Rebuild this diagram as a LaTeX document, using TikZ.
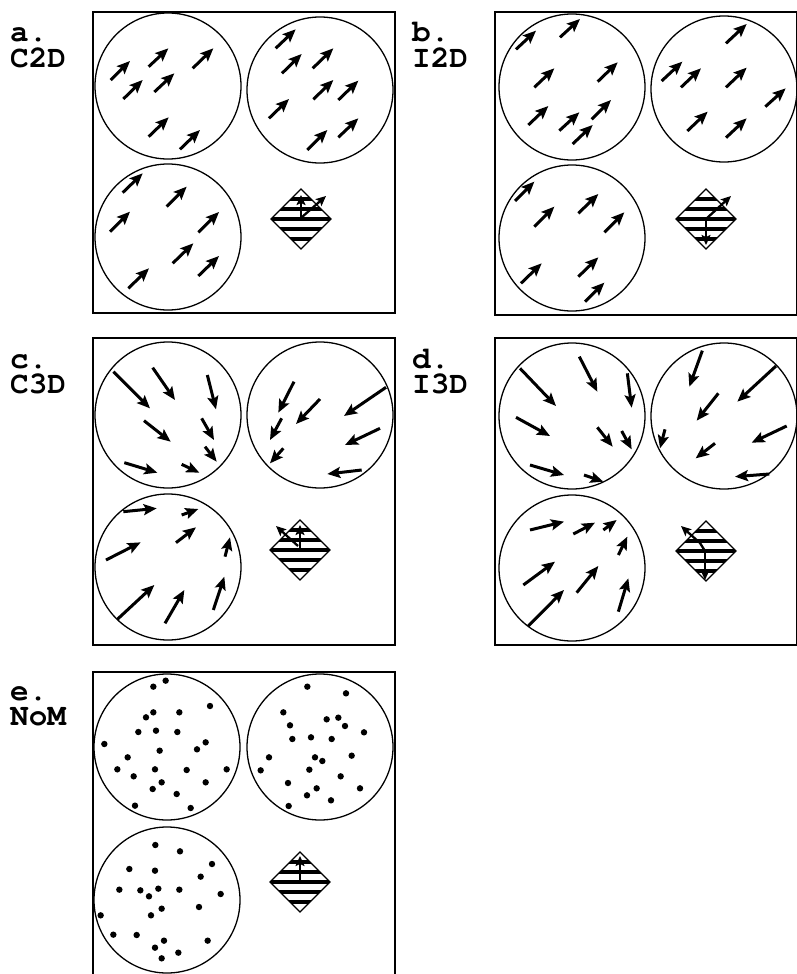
\documentclass[tikz,border=0pt]{standalone}
\usepackage{fontspec}
\setmonofont{TeX Gyre Cursor}
\usetikzlibrary{arrows.meta}
\begin{document}
\begin{tikzpicture}[x=1pt,y=-1pt,
  vec/.style={line width=3pt,-{Stealth[length=13pt,width=11pt,inset=2.5pt]}},
  smallvec/.style={line width=2.3pt,-{Stealth[length=10pt,width=9pt,inset=2pt]}},
  panel/.style={line width=1.2pt},
  disc/.style={line width=1.3pt},
  lbl/.style={font=\ttfamily\bfseries\fontsize{31}{25}\selectfont,anchor=base west,inner sep=0pt,align=left},
  hatchdiamond/.pic={
    \begin{scope}
      \clip (0,-30)--(30,0)--(0,30)--(-30,0)--cycle;
      \foreach \o in {-20,-10,0,10,20} \draw[line width=3.4pt] (-31,\o)--(31,\o);
    \end{scope}
    \draw[line width=1.3pt] (0,-30)--(30,0)--(0,30)--(-30,0)--cycle;
  }]
\useasboundingbox (0,0) rectangle (797,974);
\clip (0,0) rectangle (797,974);
\fill[white] (0,0) rectangle (797,974);

% labels
\node[lbl] (la) at (10,67) {a.\\C2D};
\node[lbl] (lb) at (412,67) {b.\\I2D};
\node[lbl] (lc) at (10,393) {c.\\C3D};
\node[lbl] (ld) at (412,393) {d.\\I3D};
\node[lbl] (le) at (10,725) {e.\\NoM};

% panel frames
\draw[panel] (93,12) rectangle (395,313);
\draw[panel] (495,12) rectangle (796.4,315);
\draw[panel] (93,338) rectangle (395,645);
\draw[panel] (495,338) rectangle (796.4,645);
\draw[panel] (93,990) -- (93,672) -- (395,672) -- (395,990);

% circles
\foreach \cx/\cy in {168/86,320/90,168/237, 572/87,724/89,572/238, 168/415,320/415,168/567, 572/416,724/416,572/568, 167/747,320/747,167/900}
  \draw[disc] (\cx,\cy) circle (73);

% diamonds
\pic at (301,219) {hatchdiamond};
\pic at (706,219) {hatchdiamond};
\pic at (300,550) {hatchdiamond};
\pic at (706,551) {hatchdiamond};
\pic at (300,882) {hatchdiamond};

% diamond vectors
\draw[smallvec] (301,219) -- (301,195);
\draw[smallvec] (302,217) -- (326,196);
\draw[smallvec] (706,219) -- (731,196);
\draw[smallvec] (706,219) -- (706,245);
\draw[smallvec] (300,550) -- (300,525);
\draw[smallvec] (298,546) -- (276,526);
\draw[smallvec] (705,551) -- (700,543) -- (681,526);
\draw[smallvec] (705,551) -- (705,580);
\draw[smallvec] (300,882) -- (300,856);

% panel a arrows (zoom coords, origin 90,0, scale 3)
\foreach \a/\b/\c/\d in {62/240/120/183, 100/297/158/240, 176/200/235/145, 193/276/253/220, 308/205/370/145, 176/410/236/352, 270/448/330/390,
  557/145/617/88, 576/220/635/162, 668/205/730/145, 670/298/730/240, 745/300/805/242, 537/355/597/297, 652/450/712/390, 745/412/805/355,
  98/578/158/520, 230/620/290/560, 60/695/120/635, 325/697/387/636, 248/790/310/730, 325/828/387/768, 115/865/177/805}
  \draw[vec] ({90+\a/3},{\b/3}) -- ({90+\c/3},{\d/3});

% panel b arrows (origin 490,0)
\foreach \a/\b/\c/\d in {78/148/138/92, 210/112/270/57, 133/262/193/205, 323/245/383/187, 115/375/175/318, 208/392/268/337, 305/358/363/300, 248/432/308/375,
  708/130/770/72, 515/243/577/185, 573/262/633/205, 708/262/770/203, 826/320/887/265, 592/393/653/335, 708/413/770/355,
  75/603/133/545, 133/680/193/620, 265/640/325/582, 343/697/403/637, 93/850/155/790, 265/830/325/772, 285/905/343/848}
  \draw[vec] ({490+\a/3},{\b/3}) -- ({490+\c/3},{\d/3});

% panel c arrows (origin 90,330)
\foreach \a/\b/\c/\d in {70/125/180/235, 188/113/255/210, 352/135/378/238, 162/272/242/335, 335/265/372/330, 345/350/380/395, 103/398/202/428, 275/403/328/428,
  612/155/565/248, 690/207/618/282, 888/172/762/258, 575/265/540/330, 870/295/765/345, 580/355/540/400, 815/420/712/432,
  100/545/200/535, 275/555/325/537, 48/690/152/637, 258/638/318/592, 405/680/420/622, 82/868/193/765, 225/880/283/780, 370/840/403/740}
  \draw[vec] ({90+\a/3},{330+\b/3}) -- ({90+\c/3},{330+\d/3});

% panel d arrows (origin 490,330)
\foreach \a/\b/\c/\d in {90/115/198/228, 268/80/322/185, 412/130/425/233, 78/262/180/318, 322/292/368/350, 395/303/425/358, 120/405/222/435, 282/435/340/455,
  637/62/598/170, 858/108/742/215, 685/190/620/272, 890/288/785/338, 525/298/510/355, 675/340/617/385, 838/432/735/440,
  120/600/222/575, 250/612/315/578, 340/600/380/570, 385/675/412/620, 100/765/195/695, 260/788/325/708, 115/888/222/780, 385/845/415/745}
  \draw[vec] ({490+\a/3},{330+\b/3}) -- ({490+\c/3},{330+\d/3});

% panel e dots (origin 90,660)
\foreach \x/\y in {227/62,190/80,360/138,190/157,268/157,168/172,145/216,198/212,262/216,43/252,347/247,321/268,209/272,113/292,82/328,195/328,290/330,410/328,131/349,215/367,347/367,188/387,260/402,135/437,302/444,
  652/80,768/100,580/157,710/178,745/173,600/196,765/198,822/217,607/237,663/232,725/237,537/292,675/292,697/303,785/287,512/331,658/329,752/349,594/369,680/385,810/385,651/406,723/421,596/438,
  196/555,270/574,118/627,195/632,366/612,332/650,88/689,151/691,205/686,268/689,177/709,392/702,215/746,183/766,327/741,32/766,70/824,140/825,222/842,353/842,195/863,265/878,215/895}
  \fill ({90+\x/3},{660+\y/3}) circle (3.2);
\end{tikzpicture}
\end{document}
